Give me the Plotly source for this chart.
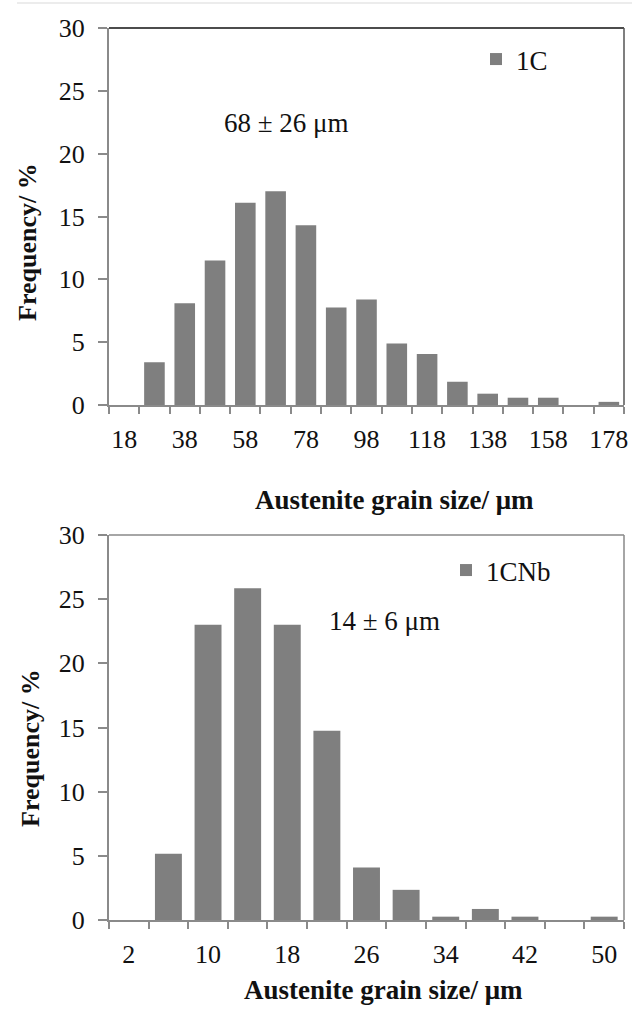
import plotly.graph_objects as go

# ---- data ----
sizes_1c = [18, 28, 38, 48, 58, 68, 78, 88, 98, 108, 118, 128, 138, 148, 158, 168, 178]
freq_1c = [0, 3.4, 8.1, 11.5, 16.1, 17.0, 14.3, 7.75, 8.4, 4.9, 4.05, 1.85, 0.9, 0.58, 0.58, 0, 0.25]

sizes_1cnb = [2, 6, 10, 14, 18, 22, 26, 30, 34, 38, 42, 46, 50]
freq_1cnb = [0, 5.17, 23.0, 25.85, 23.0, 14.75, 4.1, 2.35, 0.26, 0.86, 0.26, 0, 0.26]

y_ticks = [0, 5, 10, 15, 20, 25, 30]
label_1c = "1C"
label_1cnb = "1CNb"
note_1c = "68 ± 26 μm"
note_1cnb = "14 ± 6 μm"
x_title = "Austenite grain size/ μm"
y_title = "Frequency/ %"

W, H = 632, 1012
FONT = "Liberation Serif, Times New Roman, Times, serif"
BAR = "#7f7f7f"
AX = "#8a8a8a"


def px(x):
    return x / W


def py(y):
    return 1 - y / H


def bounds(vals):
    step = vals[1] - vals[0]
    return [v - step / 2 for v in vals] + [vals[-1] + step / 2]


fig = go.Figure()
fig.add_trace(go.Bar(x=sizes_1c, y=freq_1c, name=label_1c, marker_color=BAR,
                     marker_line_width=0, xaxis="x", yaxis="y", legend="legend"))
fig.add_trace(go.Bar(x=sizes_1cnb, y=freq_1cnb, name=label_1cnb, marker_color=BAR,
                     marker_line_width=0, xaxis="x2", yaxis="y2", legend="legend2"))

b1 = bounds(sizes_1c)
b2 = bounds(sizes_1cnb)

xcommon = dict(showline=True, linecolor=AX, linewidth=2, ticks="", showgrid=False,
               zeroline=False, automargin=False,
               tickfont=dict(family=FONT, size=26, color="#111"),
               ticklabelstandoff=10, tickmode="array")
ycommon = dict(showline=True, linecolor=AX, linewidth=2, ticks="outside", ticklen=9,
               tickcolor=AX, tickwidth=1.5, showgrid=False, zeroline=False,
               automargin=False, range=[0, 30], tickvals=y_ticks,
               tickfont=dict(family=FONT, size=26, color="#111"), ticklabelstandoff=8)

fig.update_layout(
    width=W, height=H, margin=dict(l=0, r=0, t=0, b=0, autoexpand=False),
    paper_bgcolor="white", plot_bgcolor="white",
    bargap=0.32, showlegend=True,
    xaxis=dict(**xcommon, domain=[px(109), px(624)], anchor="y",
               range=[b1[0], b1[-1]], tickvals=sizes_1c[::2],
               ticktext=[str(v) for v in sizes_1c[::2]],
               minor=dict(ticks="outside", ticklen=7, tickcolor=AX, tickwidth=1.5,
                          tickmode="array", tickvals=b1, showgrid=False)),
    yaxis=dict(**ycommon, domain=[py(405), py(28)], anchor="x"),
    xaxis2=dict(**xcommon, domain=[px(109), px(624)], anchor="y2",
                range=[b2[0], b2[-1]], tickvals=sizes_1cnb[::2],
                ticktext=[str(v) for v in sizes_1cnb[::2]],
                minor=dict(ticks="outside", ticklen=7, tickcolor=AX, tickwidth=1.5,
                           tickmode="array", tickvals=b2, showgrid=False)),
    yaxis2=dict(**ycommon, domain=[py(920), py(535)], anchor="x2"),
    legend=dict(x=px(476), y=py(35), xanchor="left", yanchor="top",
                font=dict(family=FONT, size=27, color="#111"), bgcolor="rgba(0,0,0,0)"),
    legend2=dict(x=px(446), y=py(546), xanchor="left", yanchor="top",
                 font=dict(family=FONT, size=27, color="#111"), bgcolor="rgba(0,0,0,0)"),
)

# plot frame (top and right edges)
for xr, yr, col_top, col_right in [("x domain", "y domain", "#111", "#555"),
                                     ("x2 domain", "y2 domain", "#888", "#888")]:
    fig.add_shape(type="line", xref=xr, yref=yr, x0=0, x1=1, y0=1, y1=1,
                  line=dict(color=col_top, width=1.5))
    fig.add_shape(type="line", xref=xr, yref=yr, x0=1, x1=1, y0=0, y1=1,
                  line=dict(color=col_right, width=1.5))

# faint separator line at top of image
fig.add_shape(type="line", xref="paper", yref="paper", x0=px(17), x1=1, y0=py(3), y1=py(3),
              line=dict(color="#e6e6e6", width=1.5))

ann = [
    dict(text=note_1c, x=px(286), y=py(123), size=27, bold=False, angle=0),
    dict(text=note_1cnb, x=px(384), y=py(621), size=27, bold=False, angle=0),
    dict(text=x_title, x=px(394), y=py(500), size=27, bold=True, angle=0),
    dict(text=x_title, x=px(383), y=py(990), size=27, bold=True, angle=0),
    dict(text=y_title, x=px(28), y=py(242), size=26, bold=True, angle=-90),
    dict(text=y_title, x=px(30), y=py(748), size=26, bold=True, angle=-90),
]
for a in ann:
    fig.add_annotation(text=(f"<b>{a['text']}</b>" if a["bold"] else a["text"]),
                       x=a["x"], y=a["y"], xref="paper", yref="paper",
                       xanchor="center", yanchor="middle", showarrow=False,
                       textangle=a["angle"],
                       font=dict(family=FONT, size=a["size"], color="#111"))

fig.write_html("out.html")
